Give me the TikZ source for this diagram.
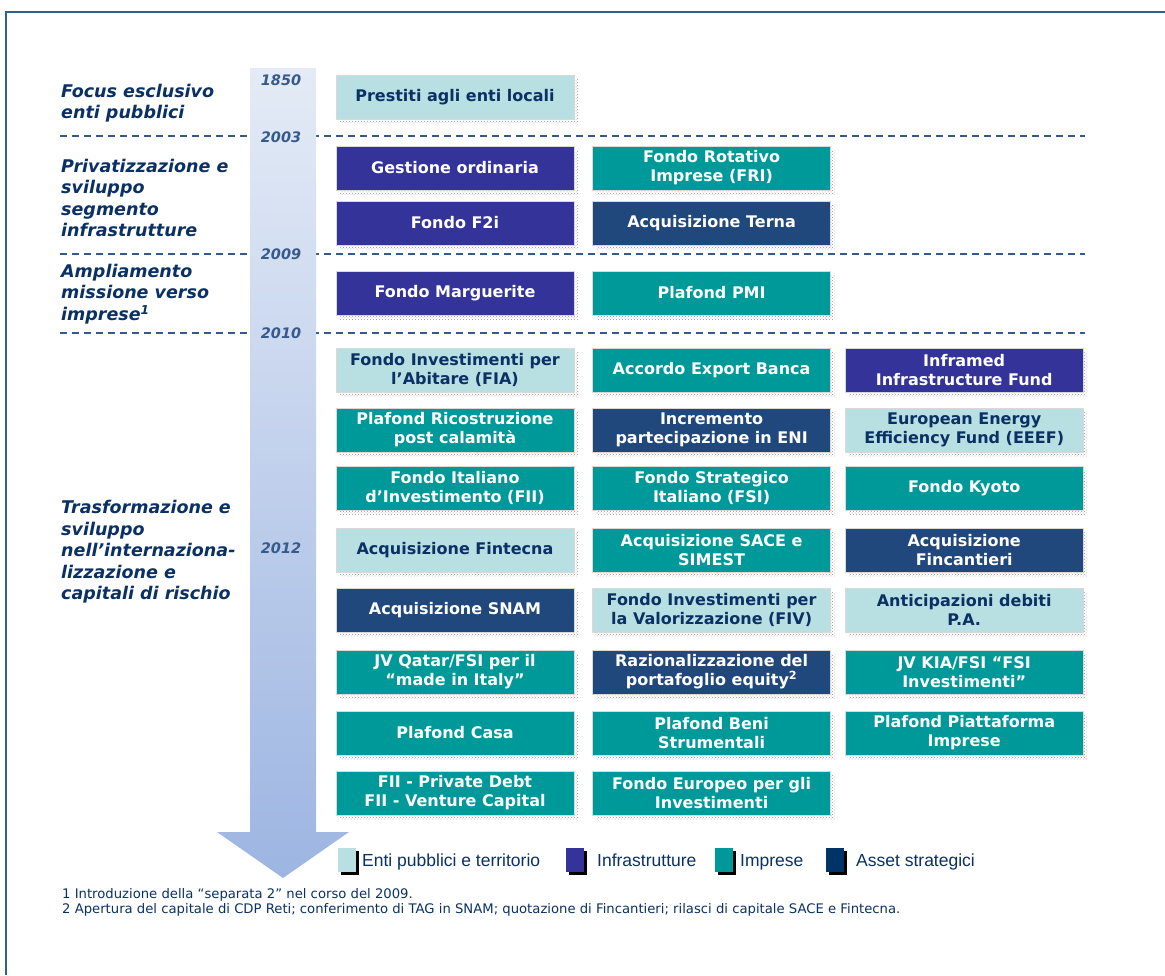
\documentclass[tikz,border=0pt]{standalone}
\usepackage{fontspec}
\setmainfont{DejaVu Sans}
\newfontfamily\legendfont{Liberation Sans}
\usetikzlibrary{positioning,patterns}

\definecolor{entiC}{RGB}{184,223,226}
\definecolor{infraC}{RGB}{51,51,153}
\definecolor{impreseC}{RGB}{0,153,153}
\definecolor{assetC}{RGB}{33,72,124}
\definecolor{assetLeg}{RGB}{0,51,102}
\definecolor{navy}{RGB}{10,48,100}
\definecolor{frameC}{RGB}{50,96,140}
\definecolor{dashC}{RGB}{55,90,140}
\definecolor{arrTop}{RGB}{228,235,246}
\definecolor{arrBot}{RGB}{157,181,226}

\tikzset{
  box/.style={rectangle, minimum width=238pt, minimum height=44pt, inner sep=0pt, align=center,
    font=\bfseries\fontsize{16}{19}\selectfont, draw=white!85!black, line width=0.6pt,
    preaction={pattern=crosshatch dots, pattern color=gray!80, transform canvas={xshift=4pt,yshift=-4pt}}},
  enti/.style={box, fill=entiC, text=navy},
  infra/.style={box, fill=infraC, text=white},
  imprese/.style={box, fill=impreseC, text=white},
  asset/.style={box, fill=assetC, text=white},
  phase/.style={anchor=west, align=left, text=navy, inner sep=0pt, font=\bfseries\itshape\fontsize{17.5}{21.5}\selectfont},
  year/.style={text=dashC, inner sep=0pt, font=\bfseries\itshape\fontsize{14.5}{16}\selectfont},
  sep/.style={dashC, dash pattern=on 7pt off 5pt, line width=1.2pt},
  legsq/.style={minimum width=18pt, minimum height=24pt, inner sep=0pt,
    preaction={fill=black, transform canvas={xshift=3pt,yshift=-3pt}}},
  legtxt/.style={anchor=base west, text=navy, inner sep=0pt, font=\legendfont\fontsize{17.5}{20}\selectfont},
}

\begin{document}
\begin{tikzpicture}[x=1pt,y=-1pt,node distance=18pt]
  \useasboundingbox (0,0) rectangle (1165,975);
  \draw[frameC, line width=2pt] (6,975) -- (6,12) -- (1165,12);

  \foreach \y in {136,254,333}
    \draw[sep] (60,\y) -- (1085,\y);

  \shade[top color=arrTop, bottom color=arrBot] (250,68) -- (316,68) -- (316,832) -- (349,832)
    -- (283,878) -- (217,832) -- (250,832) -- cycle;

  \node[year] (y1850) at (281,80) {1850};
  \node[year] (y2003) at (281,137) {2003};
  \node[year] (y2009) at (281,254) {2009};
  \node[year] (y2010) at (281,333) {2010};
  \node[year] (y2012) at (281,548) {2012};

  \node[phase] (focus) at (61,103) {Focus esclusivo\\enti pubblici};
  \node[phase] (privat) at (61,198) {Privatizzazione e\\sviluppo\\segmento\\infrastrutture};
  \node[phase] (ampl) at (61,294) {Ampliamento\\missione verso\\imprese\textsuperscript{1}};
  \node[phase] (trasf) at (61,552) {Trasformazione e\\sviluppo\\nell’internaziona-\\lizzazione e\\capitali di rischio};

  \node[enti] (prestiti) at (455,97) {Prestiti agli enti locali};

  \node[infra] (gestione) at (455,168) {Gestione ordinaria};
  \node[imprese, right=of gestione] (fri) {Fondo Rotativo\\Imprese (FRI)};
  \node[infra] (ftwoi) at (455,223) {Fondo F2i};
  \node[asset, right=of ftwoi] (terna) {Acquisizione Terna};

  \node[infra] (marguerite) at (455,293) {Fondo Marguerite};
  \node[imprese, right=of marguerite] (pmi) {Plafond PMI};

  \node[enti] (fia) at (455,370) {Fondo Investimenti per\\l’Abitare (FIA)};
  \node[imprese, right=of fia] (export) {Accordo Export Banca};
  \node[infra, right=14pt of export] (inframed) {Inframed\\Infrastructure Fund};

  \node[imprese] (ricostr) at (455,430) {Plafond Ricostruzione\\post calamità};
  \node[asset, right=of ricostr] (eni) {Incremento\\partecipazione in ENI};
  \node[enti, right=14pt of eni] (eeef) {European Energy\\Efficiency Fund (EEEF)};

  \node[imprese] (fii) at (455,488) {Fondo Italiano\\d’Investimento (FII)};
  \node[imprese, right=of fii] (fsi) {Fondo Strategico\\Italiano (FSI)};
  \node[imprese, right=14pt of fsi] (kyoto) {Fondo Kyoto};

  \node[enti] (fintecna) at (455,550) {Acquisizione Fintecna};
  \node[imprese, right=of fintecna] (sace) {Acquisizione SACE e\\SIMEST};
  \node[asset, right=14pt of sace] (fincantieri) {Acquisizione\\Fincantieri};

  \node[asset] (snam) at (455,610) {Acquisizione SNAM};
  \node[enti, right=of snam] (fiv) {Fondo Investimenti per\\la Valorizzazione (FIV)};
  \node[enti, right=14pt of fiv] (debiti) {Anticipazioni debiti\\P.A.};

  \node[imprese] (qatar) at (455,672) {JV Qatar/FSI per il\\“made in Italy”};
  \node[asset, right=of qatar] (razional) {Razionalizzazione del\\portafoglio equity\textsuperscript{2}};
  \node[imprese, right=14pt of razional] (kia) {JV KIA/FSI “FSI\\Investimenti”};

  \node[imprese] (casa) at (455,733) {Plafond Casa};
  \node[imprese, right=of casa] (beni) {Plafond Beni\\Strumentali};
  \node[imprese, right=14pt of beni] (piattaforma) {Plafond Piattaforma\\Imprese};

  \node[imprese] (fiidebt) at (455,793) {FII - Private Debt\\FII - Venture Capital};
  \node[imprese, right=of fiidebt] (feis) {Fondo Europeo per gli\\Investimenti};

  \node[legsq, fill=entiC] (legenti) at (347,860) {};
  \node[legtxt] (txtenti) at (362,866) {Enti pubblici e territorio};
  \node[legsq, fill=infraC] (leginfra) at (575,860) {};
  \node[legtxt] (txtinfra) at (597,866) {Infrastrutture};
  \node[legsq, fill=impreseC] (legimprese) at (724,860) {};
  \node[legtxt] (txtimprese) at (740,866) {Imprese};
  \node[legsq, fill=assetLeg] (legasset) at (835,860) {};
  \node[legtxt] (txtasset) at (856,866) {Asset strategici};

  \node[anchor=north west, align=left, text=navy, inner sep=0pt, font=\fontsize{13.2}{15}\selectfont] (notes) at (62,888)
    {1 Introduzione della “separata 2” nel corso del 2009.\\
     2 Apertura del capitale di CDP Reti; conferimento di TAG in SNAM; quotazione di Fincantieri; rilasci di capitale SACE e Fintecna.};
\end{tikzpicture}
\end{document}
